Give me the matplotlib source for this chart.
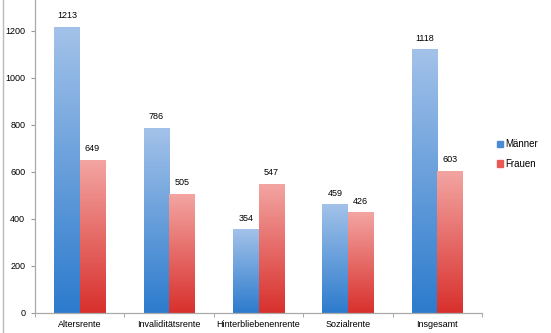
import numpy as np
import matplotlib
matplotlib.use('Agg')
import matplotlib.pyplot as plt
from matplotlib.colors import LinearSegmentedColormap
from matplotlib.lines import Line2D

## data
categories = ['Altersrente', 'Invaliditätsrente', 'Hinterbliebenenrente', 'Sozialrente', 'Insgesamt']
maenner = [1213, 786, 354, 459, 1118]
frauen = [649, 505, 547, 426, 603]
series_names = ['Männer', 'Frauen']

plt.rcParams['font.family'] = ['Liberation Sans', 'DejaVu Sans']

blue_cmap = LinearSegmentedColormap.from_list('blue', ['#2c7bcd', '#a3c2e9'])
red_cmap = LinearSegmentedColormap.from_list('red', ['#d8302c', '#f3a5a2'])

fig = plt.figure(figsize=(5.51, 3.33), dpi=100)
ax = fig.add_axes([35 / 551, 1 - 313 / 333, 447 / 551, 313 / 333])

x = np.arange(len(categories))
width = 0.285
grad = np.linspace(0, 1, 256).reshape(-1, 1)

def gradient_bar(xc, h, cmap):
    # vertical gradient: dark at bottom, light at top
    ax.imshow(grad, extent=[xc - width / 2, xc + width / 2, 0, h], origin='lower',
              cmap=cmap, aspect='auto', zorder=2, interpolation='bicubic')

for i in range(len(categories)):
    gradient_bar(x[i] - width / 2, maenner[i], blue_cmap)
    gradient_bar(x[i] + width / 2, frauen[i], red_cmap)
    ax.text(x[i] - width / 2, maenner[i] + 30, str(maenner[i]), ha='center', va='bottom', fontsize=6.5)
    ax.text(x[i] + width / 2, frauen[i] + 30, str(frauen[i]), ha='center', va='bottom', fontsize=6.5)

ax.set_xlim(-0.5, len(categories) - 0.5)
ax.set_ylim(0, 1330)

ax.set_yticks(np.arange(0, 1201, 200))
ax.set_xticks(x)
ax.set_xticklabels(categories)
ax.set_xticks(np.arange(-0.5, len(categories), 1), minor=True)
ax.tick_params(axis='x', which='major', length=0, labelsize=6.5, pad=5)
ax.tick_params(axis='x', which='minor', length=3, color='#999999', direction='out')
ax.tick_params(axis='y', length=3, color='#999999', labelsize=6.5, pad=4)

for s in ['top', 'right']:
    ax.spines[s].set_visible(False)
for s in ['left', 'bottom']:
    ax.spines[s].set_color('#aaaaaa')
    ax.spines[s].set_linewidth(0.9)

handles = [plt.Rectangle((0, 0), 1, 1, color='#4a8ad6'), plt.Rectangle((0, 0), 1, 1, color='#ea5a55')]
fig.legend(handles, series_names, loc='center left', bbox_to_anchor=(488 / 551, 1 - 154 / 333),
           frameon=False, fontsize=7, handlelength=0.6, handleheight=0.6, handletextpad=0.3,
           labelspacing=1.0)

# left image border
fig.add_artist(Line2D([2.5 / 551, 2.5 / 551], [0, 1], color='#bbbbbb', linewidth=1, transform=fig.transFigure))

fig.savefig('out.png', dpi=100)
